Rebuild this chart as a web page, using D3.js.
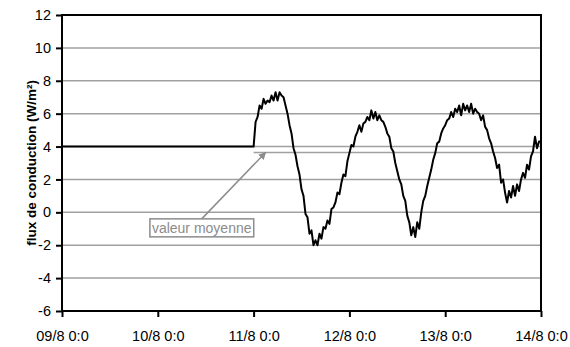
<!DOCTYPE html>
<html lang="fr">
<head>
<meta charset="UTF-8">
<title>flux de conduction</title>
<script src="https://d3js.org/d3.v7.min.js"></script>
<style>
  body { margin: 0; background: #fff; }
  text { font-family: "Liberation Sans", Arial, sans-serif; }
</style>
</head>
<body>
<svg width="570" height="347"></svg>
<script>
// valeurs
var yTicks = [-6, -4, -2, 0, 2, 4, 6, 8, 10, 12];
var dayTicks = [9, 10, 11, 12, 13, 14];
var flatValue = 4;          // avant le 11/8 0:0
var meanValue = 3.64;       // "valeur moyenne"
// mesures toutes les 30 min à partir du 11/8 0:0
var stepMinutes = 30;
var flux = [
  4.0, 5.5, 5.8, 6.5, 6.3, 6.9, 6.6, 6.8, 6.7, 7.1, 6.8, 7.3,
  6.8, 7.3, 7.1, 7.0, 6.5, 6.0, 5.3, 4.8, 3.9, 3.5, 2.8, 2.3,
  1.4, 1.0, -0.1, -0.3, -1.3, -1.1, -2.0, -1.7, -2.0, -1.3, -1.6, -0.9,
  -1.0, -0.5, -0.7, 0.2, 0.3, 0.6, 1.2, 1.1, 1.8, 2.3, 2.2, 3.1,
  3.6, 4.1, 4.0, 4.6, 4.9, 5.3, 4.9, 5.4, 5.5, 5.8, 5.6, 6.2,
  5.7, 6.1, 5.6, 5.9, 5.6, 5.5, 5.2, 4.8, 4.6, 3.9, 3.7, 3.0,
  2.5, 2.0, 1.7, 1.0, 0.7, -0.2, -0.6, -1.4, -0.9, -1.5, -0.6, -1.0,
  0.0, 0.7, 1.0, 1.6, 2.1, 2.6, 3.2, 3.6, 4.2, 4.3, 4.8, 5.1,
  5.3, 5.6, 5.7, 6.1, 5.8, 6.3, 6.1, 6.5, 5.9, 6.6, 6.2, 6.5,
  6.1, 6.6, 6.0, 6.3, 6.1, 6.0, 5.6, 5.9, 5.2, 5.0, 4.5, 4.2,
  3.7, 3.3, 2.7, 2.9, 1.8, 2.0, 1.2, 0.6, 1.3, 0.9, 1.6, 1.0,
  1.7, 1.3, 2.0, 2.4, 2.1, 2.9, 2.6, 3.4, 3.7, 4.6, 3.9, 4.3,
  4.3
];

var svg = d3.select("svg");
var margin = {top: 15, right: 29, bottom: 36, left: 62};
var width = 570 - margin.left - margin.right;
var height = 347 - margin.top - margin.bottom;
var g = svg.append("g").attr("transform", "translate(" + margin.left + "," + margin.top + ")");

function day(d, h) { return new Date(2000, 7, d, h || 0, 0); }

var x = d3.scaleTime().domain([day(9), day(14)]).range([0, width]);
var y = d3.scaleLinear().domain([-6, 12]).range([height, 0]);

// lignes de grille
g.selectAll(".grid").data(yTicks.slice(1, -1)).enter().append("line")
  .attr("x1", 0).attr("x2", width)
  .attr("y1", function(d) { return y(d); }).attr("y2", function(d) { return y(d); })
  .attr("stroke", "#a0a0a0").attr("stroke-width", 1.5);

// valeur moyenne
g.append("line")
  .attr("x1", x(day(11))).attr("x2", width)
  .attr("y1", y(meanValue)).attr("y2", y(meanValue))
  .attr("stroke", "#a0a0a0").attr("stroke-width", 1.5);

// série
var start = day(11);
var pts = [{t: day(9), v: flatValue}, {t: start, v: flatValue}];
flux.forEach(function(v, i) {
  pts.push({t: new Date(start.getTime() + i * stepMinutes * 60000), v: v});
});
var line = d3.line().x(function(d) { return x(d.t); }).y(function(d) { return y(d.v); });
g.append("path").datum(pts).attr("d", line)
  .attr("fill", "none").attr("stroke", "#000").attr("stroke-width", 2)
  .attr("stroke-linejoin", "round");

// cadre
g.append("rect").attr("width", width).attr("height", height)
  .attr("fill", "none").attr("stroke", "#000").attr("stroke-width", 2);

// axes
var fmt = d3.timeFormat("%d/%-m %-H:%-M");
var xAxis = g.append("g").attr("transform", "translate(0," + height + ")")
  .call(d3.axisBottom(x).tickValues(dayTicks.map(function(d) { return day(d); }))
    .tickFormat(fmt).tickSize(6).tickPadding(14));
var yAxis = g.append("g")
  .call(d3.axisLeft(y).tickValues(yTicks).tickFormat(function(d) { return String(d); })
    .tickSize(6).tickPadding(5));
[xAxis, yAxis].forEach(function(a) {
  a.select(".domain").remove();
  a.selectAll(".tick line").attr("stroke", "#000").attr("stroke-width", 2);
  a.selectAll("text").attr("font-size", 14.5).attr("fill", "#000")
    .attr("font-family", "'Liberation Sans', Arial, sans-serif");
});

// titre de l'axe Y
svg.append("text")
  .attr("transform", "translate(36," + (margin.top + height / 2) + ") rotate(-90)")
  .attr("text-anchor", "middle")
  .attr("font-size", 13.5).attr("font-weight", "bold")
  .text("flux de conduction (W/m²)");

// annotation
var target = {t: day(11, 3.6), v: meanValue};
var labelPos = {t: day(10, 11.6), v: -0.95};
svg.append("defs").append("marker")
  .attr("id", "arrow").attr("viewBox", "0 0 10 10")
  .attr("refX", 9).attr("refY", 5)
  .attr("markerWidth", 5).attr("markerHeight", 5).attr("orient", "auto")
  .append("path").attr("d", "M0,0L10,5L0,10z").attr("fill", "#8c8c8c");

var lab = g.append("g").attr("transform", "translate(" + x(labelPos.t) + "," + y(labelPos.v) + ")");
var txt = lab.append("text").attr("text-anchor", "middle").attr("dy", "0.35em")
  .attr("font-size", 14).attr("fill", "#8c8c8c").text("valeur moyenne");
var bb = txt.node().getBBox();
lab.insert("rect", "text")
  .attr("x", bb.x - 2).attr("y", bb.y - 1)
  .attr("width", bb.width + 4).attr("height", bb.height + 2)
  .attr("fill", "#fff").attr("stroke", "#8c8c8c").attr("stroke-width", 1.5);

g.append("line")
  .attr("x1", x(labelPos.t)).attr("y1", y(labelPos.v) + bb.y - 1)
  .attr("x2", x(target.t)).attr("y2", y(target.v))
  .attr("stroke", "#8c8c8c").attr("stroke-width", 1.5)
  .attr("marker-end", "url(#arrow)");
</script>
</body>
</html>
